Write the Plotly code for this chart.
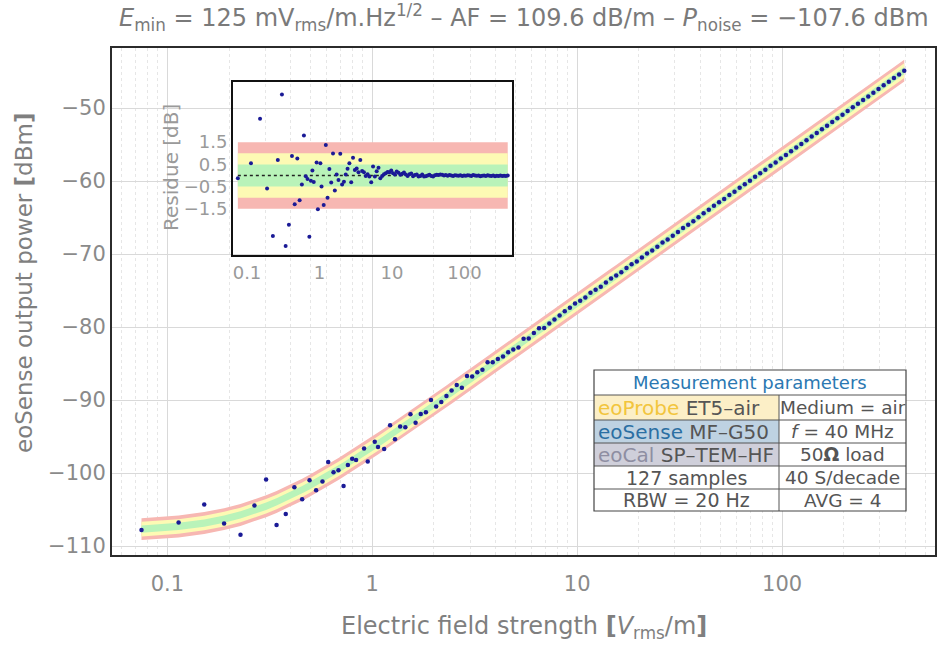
import numpy as np
import plotly.graph_objects as go

# ---------------- data ----------------
E_FIELD = [  # electric field strength [V/m]
    0.0748, 0.1135, 0.1514, 0.1892, 0.2275, 0.2661, 0.3034, 0.3412, 0.3784, 0.4169,
    0.4550, 0.4943, 0.5321, 0.5715, 0.6095, 0.6471, 0.6839, 0.7244, 0.7603, 0.7980,
    0.8337, 0.9120, 0.9506, 1.028, 1.067, 1.143, 1.222, 1.291,
    1.368, 1.450, 1.536, 1.627, 1.724, 1.827, 1.935, 2.050, 2.172, 2.301,
    2.438, 2.583, 2.737, 2.900, 3.072, 3.255, 3.449, 3.654, 3.871, 4.102,
    4.346, 4.604, 4.878, 5.168, 5.476, 5.801, 6.147, 6.512, 6.900, 7.311,
    7.745, 8.206, 8.694, 9.213, 9.761, 10.34, 10.96, 11.61, 12.30, 13.03,
    13.81, 14.63, 15.50, 16.42, 17.40, 18.43, 19.53, 20.69, 21.92, 23.23,
    24.61, 26.08, 27.63, 29.27, 31.01, 32.86, 34.81, 36.88, 39.08, 41.40,
    43.87, 46.48, 49.24, 52.17, 55.27, 58.56, 62.05, 65.74, 69.65, 73.79,
    78.18, 82.83, 87.76, 92.98, 98.51, 104.4, 110.6, 117.2, 124.1, 131.5,
    139.4, 147.6, 156.4, 165.7, 175.6, 186.0, 197.1, 208.8, 221.3, 234.4,
    248.4, 263.2, 278.8, 295.4, 313.0, 331.6, 351.3, 372.3, 394.4,
]
RESIDUE = [  # measured minus fit [dB]
    -0.12, 0.55, 2.55, -0.59, -2.73, 0.70, 3.65, -3.17, -2.22, 0.88,
    -1.30, 0.76, -1.12, -0.40, 1.80, -0.03, -0.16, -2.76, -0.24, 0.23,
    -0.29, 0.58, -1.52, 0.55, -0.49, -1.33, 1.37, -1.00,
    0.29, -0.32, 0.99, -0.68, 0.05, -0.20, 0.98, -0.40, -0.28, 0.05,
    0.30, 0.55, -0.30, 0.80, 0.25, 0.32, 0.15, 0.70, 0.20, 0.15,
    -0.02, 0.06, -0.05, -0.30, 0.40, -0.05, 0.19, 0.35, -0.12, -0.02,
    0.06, 0.10, 0.16, 0.15, 0.22, 0.10, 0.05, 0.18, 0.12, 0.03,
    0.08, 0.14, 0.04, -0.02, 0.06, 0.09, -0.03, 0.02, 0.05, -0.04,
    -0.02, 0.04, -0.05, -0.03, 0.00, 0.03, -0.02, -0.04, 0.01, 0.03,
    0.02, 0.05, 0.03, 0.00, 0.02, -0.01, 0.02, 0.00, -0.02, 0.01,
    0.00, -0.01, 0.01, -0.02, 0.00, -0.01, 0.01, 0.00, -0.02, 0.02,
    0.00, -0.01, 0.00, -0.03, -0.01, 0.00, -0.02, 0.01, -0.01, -0.02,
    0.00, -0.03, -0.01, -0.02, 0.00, -0.02, -0.01, -0.02, 0.00,
]

# fit model parameters
FIT_NOISE_DBM = -108.0      # noise floor of the fitted curve
FIT_OFFSET_DB = -96.8       # P = 20 log10(E) + offset at high field
TOLERANCE_BANDS = [1.5, 1.0, 0.5]   # dB

X_TICKS = [0.1, 1, 10, 100]
X_TICK_TEXT = ["0.1", "1", "10", "100"]
Y_TICKS = [-110, -100, -90, -80, -70, -60, -50]
RES_TICKS = [1.5, 0.5, -0.5, -1.5]
RES_TICK_TEXT = ["1.5", "0.5", "\u22120.5", "\u22121.5"]

TITLE = ("<i>E</i><sub>min</sub> = 125 mV<sub>rms</sub>/m.Hz<sup>1/2</sup> \u2013 "
         "AF = 109.6 dB/m \u2013 <i>P</i><sub>noise</sub> = \u2212107.6 dBm")
X_TITLE = "Electric field strength <b>[</b><i>V</i><sub>rms</sub>/m<b>]</b>"
Y_TITLE = "eoSense output power <b>[</b>dBm<b>]</b>"
RES_TITLE = "Residue [dB]"

TABLE_HEADER = "Measurement parameters"
TABLE_LEFT = [
    "<span style='color:#F2C53D'>eoProbe</span> ET5\u2013air",
    "<span style='color:#2B6FA3'>eoSense</span> MF\u2013G50",
    "<span style='color:#8E8EA2'>eoCal</span> SP\u2013TEM\u2013HF",
    "127 samples",
    "RBW = 20 Hz",
]
TABLE_RIGHT = ["Medium = air", "<i>f</i> = 40 MHz", "50<b>\u03a9</b> load",
               "40 S/decade", "AVG = 4"]
TABLE_LEFT_FILL = ["#FCEFC7", "#BED2E2", "#CFCFDA", None, None]

# ---------------- derived ----------------
E = np.array(E_FIELD)
res = np.array(RESIDUE)
fit = 10 * np.log10(10 ** (FIT_NOISE_DBM / 10) + 10 ** ((20 * np.log10(E) + FIT_OFFSET_DB) / 10))
power = fit + res

W, H = 941, 647
L, R, T, B = 112, 935, 48, 555


def px(x):
    return (x - L) / (R - L)


def py(y):
    return (B - y) / (B - T)


FONT = "DejaVu Sans"
GREY = "#8a8a8a"
BAND_COLORS = {1.5: "#F7B7B2", 1.0: "#FDFAB4", 0.5: "#B9F3B9"}
DOT = "#1a1a96"

fig = go.Figure()

# main tolerance bands around the fit
for h in TOLERANCE_BANDS:
    fig.add_trace(go.Scatter(x=E, y=fit + h, mode="lines", line=dict(width=0),
                             showlegend=False, hoverinfo="skip"))
    fig.add_trace(go.Scatter(x=E, y=fit - h, mode="lines", line=dict(width=0),
                             fill="tonexty", fillcolor=BAND_COLORS[h],
                             showlegend=False, hoverinfo="skip"))

fig.add_trace(go.Scatter(x=E, y=power, mode="markers",
                         marker=dict(size=4.5, color=DOT), showlegend=False))

# inset bands
e0, e1 = E[0], E[-1]
for h in TOLERANCE_BANDS:
    fig.add_trace(go.Scatter(x=[e0, e1, e1, e0, e0], y=[h, h, -h, -h, h],
                             mode="lines", line=dict(width=0), fill="toself",
                             fillcolor=BAND_COLORS[h], xaxis="x2", yaxis="y2",
                             showlegend=False, hoverinfo="skip"))
fig.add_trace(go.Scatter(x=[e0, e1], y=[0, 0], mode="lines",
                         line=dict(color="#222", width=1.6, dash="dot"),
                         xaxis="x2", yaxis="y2", showlegend=False, hoverinfo="skip"))
fig.add_trace(go.Scatter(x=E, y=res, mode="markers", marker=dict(size=4, color=DOT),
                         xaxis="x2", yaxis="y2", showlegend=False))

axis_common = dict(showline=True, mirror=True, zeroline=False, ticks="")

fig.update_layout(
    width=W, height=H,
    margin=dict(l=L, r=W - R, t=T, b=H - B),
    paper_bgcolor="white", plot_bgcolor="rgba(0,0,0,0)",
    font=dict(family=FONT, color=GREY),
    showlegend=False,
    xaxis=dict(type="log", range=[-1.270, 2.746], domain=[0, 1],
               tickvals=X_TICKS, ticktext=X_TICK_TEXT,
               tickfont=dict(size=21, color=GREY), ticklabelstandoff=9,
               showgrid=True, gridcolor="#d9d9d9", gridwidth=1,
               minor=dict(dtick="D1", showgrid=True, gridcolor="#e6e6e6",
                          griddash="dot", ticks=""),
               linecolor="#2b2b2b", linewidth=2, automargin=False, **axis_common),
    yaxis=dict(range=[-111.23, -41.78], domain=[0, 1], tickvals=Y_TICKS,
               tickfont=dict(size=21, color=GREY), ticklabelstandoff=0,
               showgrid=True, gridcolor="#d9d9d9", gridwidth=1,
               linecolor="#2b2b2b", linewidth=2, automargin=False, **axis_common),
    xaxis2=dict(type="log", range=[-1.193, 2.655], domain=[px(233), px(512)],
                anchor="y2", tickvals=X_TICKS, ticktext=X_TICK_TEXT,
                tickfont=dict(size=18, color="#9a9a9a"), showgrid=False,
                linecolor="#111", linewidth=2, automargin=False, **axis_common),
    yaxis2=dict(range=[-3.58, 4.21], domain=[py(255), py(82)], anchor="x2",
                tickvals=RES_TICKS, ticktext=RES_TICK_TEXT, ticklabelstandoff=0,
                tickfont=dict(size=18, color="#9a9a9a"), showgrid=False,
                linecolor="#111", linewidth=2, automargin=False, **axis_common),
)

ann = []
ann.append(dict(text=TITLE, x=0.5, y=py(18), xref="paper", yref="paper",
                showarrow=False, font=dict(size=24, color="#7a7a7a"),
                xanchor="center", yanchor="middle"))
ann.append(dict(text=X_TITLE, x=0.5, y=py(627), xref="paper", yref="paper",
                showarrow=False, font=dict(size=24, color="#7f7f7f"),
                xanchor="center", yanchor="middle"))
ann.append(dict(text=Y_TITLE, x=px(24), y=py(283), xref="paper", yref="paper",
                showarrow=False, textangle=-90, font=dict(size=23, color="#7f7f7f"),
                xanchor="center", yanchor="middle"))
ann.append(dict(text=RES_TITLE, x=px(171), y=py(168), xref="paper", yref="paper",
                showarrow=False, textangle=-90, font=dict(size=20, color="#9a9a9a"),
                xanchor="center", yanchor="middle"))

# table
tx0, tx1, tmid = 594, 906, 779
rows_y = [370, 395, 420, 443, 466, 489, 511]
shapes = []
shapes.append(dict(type="rect", xref="paper", yref="paper", x0=px(tx0), x1=px(tx1),
                   y0=py(rows_y[-1]), y1=py(rows_y[0]), fillcolor="white",
                   line=dict(width=0), layer="above"))
for i, fc in enumerate(TABLE_LEFT_FILL):
    if fc:
        shapes.append(dict(type="rect", xref="paper", yref="paper", x0=px(tx0), x1=px(tmid),
                           y0=py(rows_y[i + 2]), y1=py(rows_y[i + 1]), fillcolor=fc,
                           line=dict(width=0), layer="above"))
line_style = dict(color="#555", width=1)
for yv in rows_y[1:-1]:
    shapes.append(dict(type="line", xref="paper", yref="paper", x0=px(tx0), x1=px(tx1),
                       y0=py(yv), y1=py(yv), line=line_style, layer="above"))
shapes.append(dict(type="line", xref="paper", yref="paper", x0=px(tmid), x1=px(tmid),
                   y0=py(rows_y[-1]), y1=py(rows_y[1]), line=line_style, layer="above"))
shapes.append(dict(type="rect", xref="paper", yref="paper", x0=px(tx0), x1=px(tx1),
                   y0=py(rows_y[-1]), y1=py(rows_y[0]), line=dict(color="#444", width=1.2),
                   layer="above"))
fig.update_layout(shapes=shapes)

ann.append(dict(text=TABLE_HEADER, x=px((tx0 + tx1) / 2), y=py((rows_y[0] + rows_y[1]) / 2),
                xref="paper", yref="paper", showarrow=False,
                font=dict(size=18, color="#2B78B2"), xanchor="center", yanchor="middle"))
for i in range(5):
    yc = py((rows_y[i + 1] + rows_y[i + 2]) / 2)
    if i < 3:
        ann.append(dict(text=TABLE_LEFT[i], x=px(tx0 + 2), y=yc, xref="paper", yref="paper",
                        showarrow=False, font=dict(size=20, color="#555"),
                        xanchor="left", yanchor="middle"))
    else:
        ann.append(dict(text=TABLE_LEFT[i], x=px((tx0 + tmid) / 2), y=yc, xref="paper",
                        yref="paper", showarrow=False, font=dict(size=19, color="#555"),
                        xanchor="center", yanchor="middle"))
    ann.append(dict(text=TABLE_RIGHT[i], x=px((tmid + tx1) / 2), y=yc, xref="paper",
                    yref="paper", showarrow=False, font=dict(size=18.5, color="#555"),
                    xanchor="center", yanchor="middle"))
fig.update_layout(annotations=ann)

fig.write_html("out.html", post_script="document.body.style.margin='0px';",
               config={"displayModeBar": False})
